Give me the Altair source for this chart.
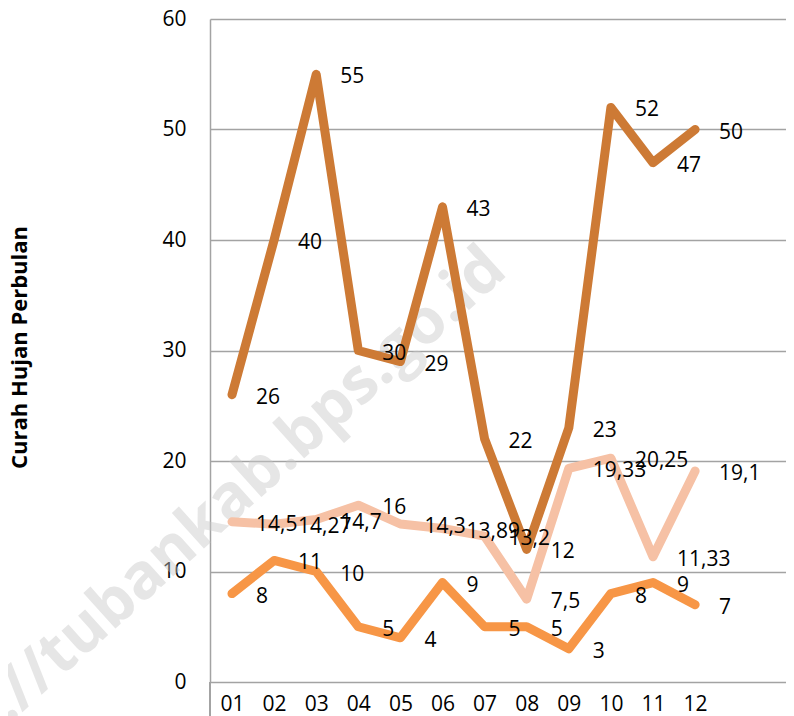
import altair as alt
import pandas as pd

months = ["01", "02", "03", "04", "05", "06", "07", "08", "09", "10", "11", "12"]
series_names = ["Seri 1", "Seri 2", "Seri 3"]
series_1 = [26, 40, 55, 30, 29, 43, 22, 12, 23, 52, 47, 50]
series_2 = [14.5, 14.27, 14.7, 16, 14.3, 13.89, 13.2, 7.5, 19.33, 20.25, 11.33, 19.1]
series_3 = [8, 11, 10, 5, 4, 9, 5, 5, 3, 8, 9, 7]
y_ticks = [0, 10, 20, 30, 40, 50, 60]
y_title = "Curah Hujan Perbulan"
watermark = "https://tubankab.bps.go.id"

colors = ["#CD7A35", "#F6C1A5", "#F79646"]
FONT = "Open Sans"
GRID = "#a3a3a3"

rows = []
for name, vals in zip(series_names, [series_1, series_2, series_3]):
    for i, (m, v) in enumerate(zip(months, vals)):
        rows.append({"month": m, "m": i + 1, "value": v, "series": name,
                     "label": f"{v:g}".replace(".", ",")})
df = pd.DataFrame(rows)

x_enc = alt.X("m:Q",
              scale=alt.Scale(domain=[0.4774, 14.159], nice=False, zero=False),
              axis=alt.Axis(title=None, domain=False, ticks=False, grid=False,
                            values=list(range(1, len(months) + 1)), format="02d",
                            labelAngle=0, labelFontSize=21, labelFont=FONT,
                            labelColor="black", labelPadding=11))
y_enc = alt.Y("value:Q",
              scale=alt.Scale(domain=[0, 60], nice=False),
              axis=alt.Axis(values=y_ticks, title=y_title, grid=True,
                            gridColor=GRID, gridWidth=1.5,
                            domainColor=GRID, domainWidth=1.5, ticks=False,
                            labelFontSize=21, labelFont=FONT, labelColor="black",
                            labelPadding=24,
                            titleFont=FONT, titleFontSize=22, titleFontWeight="bold",
                            titleColor="black", titleX=-191, titleY=328,
                            titleAngle=270, titleBaseline="middle", titleAlign="center"))
color_enc = alt.Color("series:N", scale=alt.Scale(domain=series_names, range=colors),
                      legend=None)

wm = alt.Chart(pd.DataFrame({"t": [watermark]})).mark_text(
    angle=318, fontSize=63, fontWeight="bold", font=FONT,
    color="#c8c8c8", opacity=0.45, align="center", baseline="middle"
).encode(x=alt.value(-26), y=alt.value(522), text="t:N")

base = alt.Chart(df)
lines = base.mark_line(strokeWidth=9, strokeCap="round", strokeJoin="round").encode(
    x=x_enc, y=y_enc, color=color_enc, detail="series:N")
labels = base.mark_text(align="left", baseline="middle", dx=24, dy=3,
                        fontSize=21, font=FONT, color="black").encode(
    x="m:Q", y="value:Q", text="label:N")
axis_ext = base.mark_rule(color=GRID, strokeWidth=1.5).encode(
    x=alt.value(0), y=alt.value(663), y2=alt.value(710))

chart = alt.layer(wm, lines, labels, axis_ext).properties(
    width=576, height=663,
    autosize=alt.AutoSizeParams(type="none"),
    padding={"left": 202, "top": 11, "right": 0, "bottom": 40},
    background="white",
).configure_view(stroke=None)

chart.save("out.html", embed_options={"renderer": "svg", "actions": False})
